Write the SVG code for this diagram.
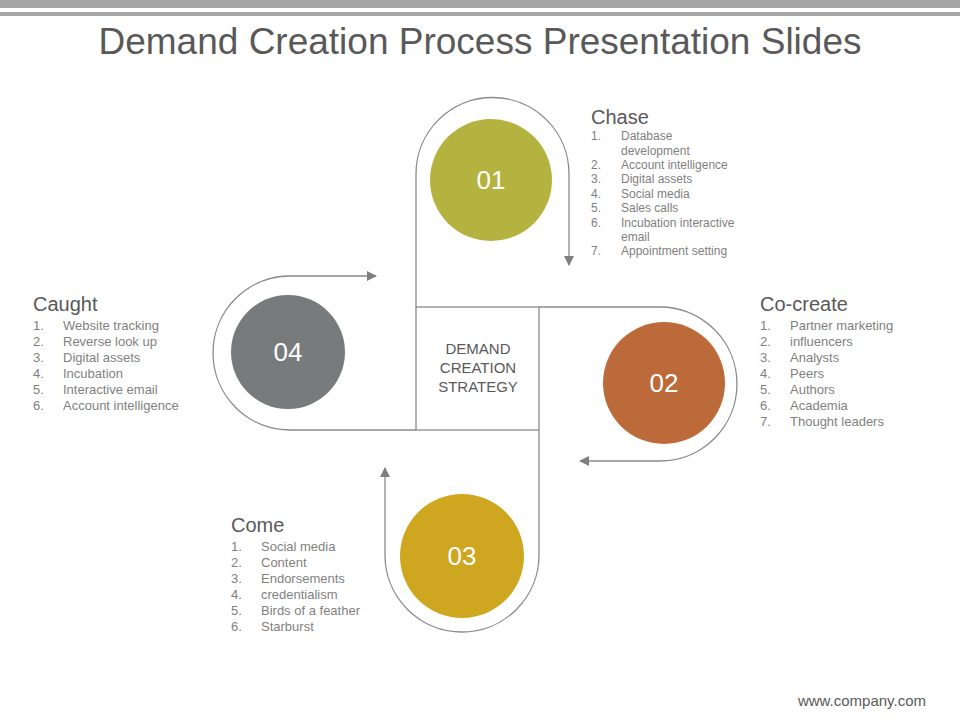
<svg xmlns="http://www.w3.org/2000/svg" width="960" height="720" viewBox="0 0 960 720">
<style>
.ln{fill:none;stroke:#8a8a8a;stroke-width:1.3}
.t{font-family:"Liberation Sans",Arial,sans-serif;fill:#595959}
.h{font-size:20px}
.li{font-size:13px;fill:#7f7f7f}
.sm{font-size:12px;fill:#7f7f7f}
.num{font-family:"Liberation Sans",Arial,sans-serif;font-size:26px;fill:#fff;text-anchor:middle}
</style>
<defs><marker id="a" viewBox="0 0 10 10" refX="9" refY="5" markerWidth="10" markerHeight="10" markerUnits="userSpaceOnUse" orient="auto"><path d="M0,0L10,5L0,10z" fill="#7f7f7f"/></marker></defs>
<rect x="0" y="0" width="960" height="8" fill="#a6a6a6"/>
<rect x="0" y="12" width="960" height="4" fill="#a6a6a6"/>
<text x="480" y="54" text-anchor="middle" class="t" font-size="37" fill="#404040">Demand Creation Process Presentation Slides</text>
<g id="connectors">
<path class="ln" d="M416,307 V174 A76.5,76.5 0 0 1 569,174 V265" marker-end="url(#a)"/>
<path class="ln" d="M539,307 H660 A77,77 0 0 1 660,461 H580" marker-end="url(#a)"/>
<path class="ln" d="M539,430 V555 A77,77 0 0 1 385,555 V468" marker-end="url(#a)"/>
<path class="ln" d="M416,430 H290 A77,77 0 0 1 290,276 H376" marker-end="url(#a)"/>
</g>
<g id="center"><rect x="416" y="307" width="123" height="123" class="ln"/>
<text class="t" font-size="15" fill="#8a8a8a" text-anchor="middle"><tspan x="478" y="354">DEMAND</tspan><tspan x="478" y="373">CREATION</tspan><tspan x="478" y="392">STRATEGY</tspan></text></g>
<g id="n01"><circle cx="491" cy="180" r="61" fill="#b5b33f"/><text class="num" x="491" y="189">01</text></g>
<g id="n02"><circle cx="664" cy="383" r="61" fill="#bd6a3b"/><text class="num" x="664" y="392">02</text></g>
<g id="n03"><circle cx="462" cy="556" r="62" fill="#cfa61f"/><text class="num" x="462" y="565">03</text></g>
<g id="n04"><circle cx="288" cy="352" r="57" fill="#787b7b"/><text class="num" x="288" y="361">04</text></g>
<g id="chase"><text class="t h" x="591" y="124">Chase</text>
<text class="t sm"><tspan x="591" y="140">1.</tspan><tspan x="621" y="140">Database</tspan><tspan x="621" y="155">development</tspan><tspan x="591" y="169">2.</tspan><tspan x="621" y="169">Account intelligence</tspan><tspan x="591" y="183">3.</tspan><tspan x="621" y="183">Digital assets</tspan><tspan x="591" y="198">4.</tspan><tspan x="621" y="198">Social media</tspan><tspan x="591" y="212">5.</tspan><tspan x="621" y="212">Sales calls</tspan><tspan x="591" y="227">6.</tspan><tspan x="621" y="227">Incubation interactive</tspan><tspan x="621" y="241">email</tspan><tspan x="591" y="255">7.</tspan><tspan x="621" y="255">Appointment setting</tspan></text></g>
<g id="cocreate"><text class="t h" x="760" y="311">Co-create</text>
<text class="t li"><tspan x="760" y="330">1.</tspan><tspan x="790" y="330">Partner marketing</tspan><tspan x="760" y="346">2.</tspan><tspan x="790" y="346">influencers</tspan><tspan x="760" y="362">3.</tspan><tspan x="790" y="362">Analysts</tspan><tspan x="760" y="378">4.</tspan><tspan x="790" y="378">Peers</tspan><tspan x="760" y="394">5.</tspan><tspan x="790" y="394">Authors</tspan><tspan x="760" y="410">6.</tspan><tspan x="790" y="410">Academia</tspan><tspan x="760" y="426">7.</tspan><tspan x="790" y="426">Thought leaders</tspan></text></g>
<g id="come"><text class="t h" x="231" y="532">Come</text>
<text class="t li"><tspan x="231" y="551">1.</tspan><tspan x="261" y="551">Social media</tspan><tspan x="231" y="567">2.</tspan><tspan x="261" y="567">Content</tspan><tspan x="231" y="583">3.</tspan><tspan x="261" y="583">Endorsements</tspan><tspan x="231" y="599">4.</tspan><tspan x="261" y="599">credentialism</tspan><tspan x="231" y="615">5.</tspan><tspan x="261" y="615">Birds of a feather</tspan><tspan x="231" y="631">6.</tspan><tspan x="261" y="631">Starburst</tspan></text></g>
<g id="caught"><text class="t h" x="33" y="311">Caught</text>
<text class="t li"><tspan x="33" y="330">1.</tspan><tspan x="63" y="330">Website tracking</tspan><tspan x="33" y="346">2.</tspan><tspan x="63" y="346">Reverse look up</tspan><tspan x="33" y="362">3.</tspan><tspan x="63" y="362">Digital assets</tspan><tspan x="33" y="378">4.</tspan><tspan x="63" y="378">Incubation</tspan><tspan x="33" y="394">5.</tspan><tspan x="63" y="394">Interactive email</tspan><tspan x="33" y="410">6.</tspan><tspan x="63" y="410">Account intelligence</tspan></text></g>
<text class="t" x="926" y="706" text-anchor="end" font-size="15" fill="#7f7f7f">www.company.com</text>
</svg>
